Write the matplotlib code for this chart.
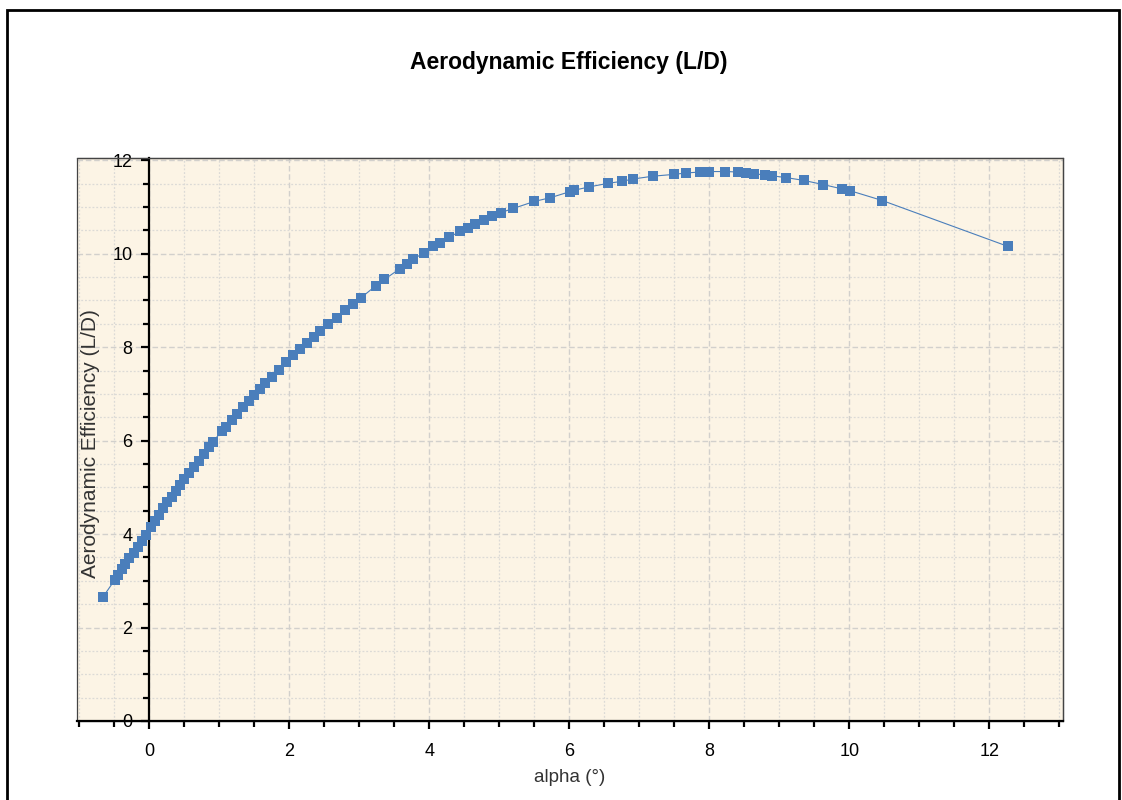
import matplotlib
matplotlib.use('Agg')
import matplotlib.pyplot as plt
from matplotlib.patches import Rectangle
from matplotlib.ticker import MultipleLocator

# angle of attack (deg) and lift-to-drag ratio
alpha = [-0.66, -0.49, -0.44, -0.39, -0.34, -0.28, -0.22, -0.16, -0.10, -0.04,
         0.02, 0.08, 0.14, 0.20, 0.26, 0.32, 0.38, 0.44, 0.50, 0.57,
         0.64, 0.71, 0.78, 0.85, 0.91, 1.04, 1.10, 1.18, 1.26, 1.34,
         1.42, 1.50, 1.58, 1.66, 1.75, 1.85, 1.96, 2.06, 2.16, 2.26,
         2.35, 2.44, 2.56, 2.68, 2.80, 2.91, 3.02, 3.24, 3.36, 3.58,
         3.68, 3.77, 3.92, 4.05, 4.16, 4.28, 4.44, 4.56, 4.66, 4.78,
         4.90, 5.02, 5.20, 5.50, 5.73, 6.01, 6.07, 6.28, 6.56, 6.75,
         6.91, 7.19, 7.50, 7.67, 7.87, 8.00, 8.23, 8.41, 8.53, 8.64,
         8.79, 8.89, 9.10, 9.35, 9.63, 9.89, 10.01, 10.47, 12.26]
ld = [2.65, 3.02, 3.13, 3.25, 3.35, 3.48, 3.60, 3.72, 3.85, 3.97,
      4.15, 4.27, 4.40, 4.55, 4.68, 4.80, 4.93, 5.05, 5.17, 5.30,
      5.43, 5.57, 5.72, 5.86, 5.98, 6.20, 6.30, 6.45, 6.58, 6.72,
      6.85, 6.97, 7.10, 7.23, 7.37, 7.52, 7.68, 7.83, 7.96, 8.10,
      8.22, 8.34, 8.50, 8.63, 8.80, 8.93, 9.05, 9.32, 9.45, 9.68,
      9.79, 9.88, 10.02, 10.16, 10.24, 10.35, 10.48, 10.56, 10.64, 10.72,
      10.80, 10.88, 10.97, 11.12, 11.20, 11.33, 11.36, 11.43, 11.51, 11.55,
      11.60, 11.66, 11.70, 11.73, 11.75, 11.76, 11.76, 11.75, 11.73, 11.71,
      11.69, 11.67, 11.63, 11.57, 11.48, 11.39, 11.35, 11.14, 10.16]

plt.rcParams['font.family'] = ['Liberation Sans', 'DejaVu Sans']

fig = plt.figure(figsize=(11.22, 8.0), dpi=100)
ax = fig.add_axes([0.0686, 0.0988, 0.8788, 0.7037])
ax.set_facecolor('#fcf4e5')

ax.plot(alpha, ld, color='#4a7ebb', lw=0.8, marker='s', ms=7,
        markeredgewidth=0, zorder=3)

ax.set_xlim(-1.03, 13.05)
ax.set_ylim(0, 12.05)

ax.xaxis.set_major_locator(MultipleLocator(2))
ax.xaxis.set_minor_locator(MultipleLocator(0.5))
ax.yaxis.set_major_locator(MultipleLocator(2))
ax.yaxis.set_minor_locator(MultipleLocator(0.5))

# grid: dashed major, dotted minor
ax.grid(which='major', color='#d2d0cc', ls=(0, (4, 2)), lw=1.0)
ax.grid(which='minor', color='#dcdad6', ls=(0, (1.5, 1.5)), lw=0.9)
ax.set_axisbelow(True)

# y axis sits on alpha = 0
ax.spines['left'].set_position(('data', 0))
ax.spines['left'].set_linewidth(1.6)
ax.spines['bottom'].set_linewidth(1.6)
ax.spines['top'].set_color('#444444')
ax.spines['right'].set_color('#444444')
ax.spines['top'].set_linewidth(0.9)
ax.spines['right'].set_linewidth(0.9)
ax.add_patch(Rectangle((0, 0), 1, 1, transform=ax.transAxes, fill=False,
                       edgecolor='#444444', lw=0.9, clip_on=False, zorder=1))

ax.tick_params(which='major', direction='out', length=6, width=1.6,
               labelsize=13, colors='black')
ax.tick_params(which='minor', direction='out', length=4.5, width=1.6)
ax.tick_params(axis='x', which='major', pad=10)
ax.tick_params(axis='y', which='major', pad=6)

ax.set_xlabel('alpha (°)', fontsize=13.5, color='#333333', labelpad=6)
ax.text(0.014, 0.493, 'Aerodynamic Efficiency (L/D)', transform=ax.transAxes,
        rotation=90, ha='center', va='center', fontsize=15, color='#333333')

fig.text(0.507, 0.922, 'Aerodynamic Efficiency (L/D)', ha='center',
         va='center', fontsize=16.5, fontweight='bold')

# outer frame around the whole chart
fig.patches.append(Rectangle((7 / 1122, -0.02), 1112 / 1122, 1.007,
                             transform=fig.transFigure, fill=False,
                             edgecolor='black', lw=2))

fig.savefig('out.png', dpi=100)
